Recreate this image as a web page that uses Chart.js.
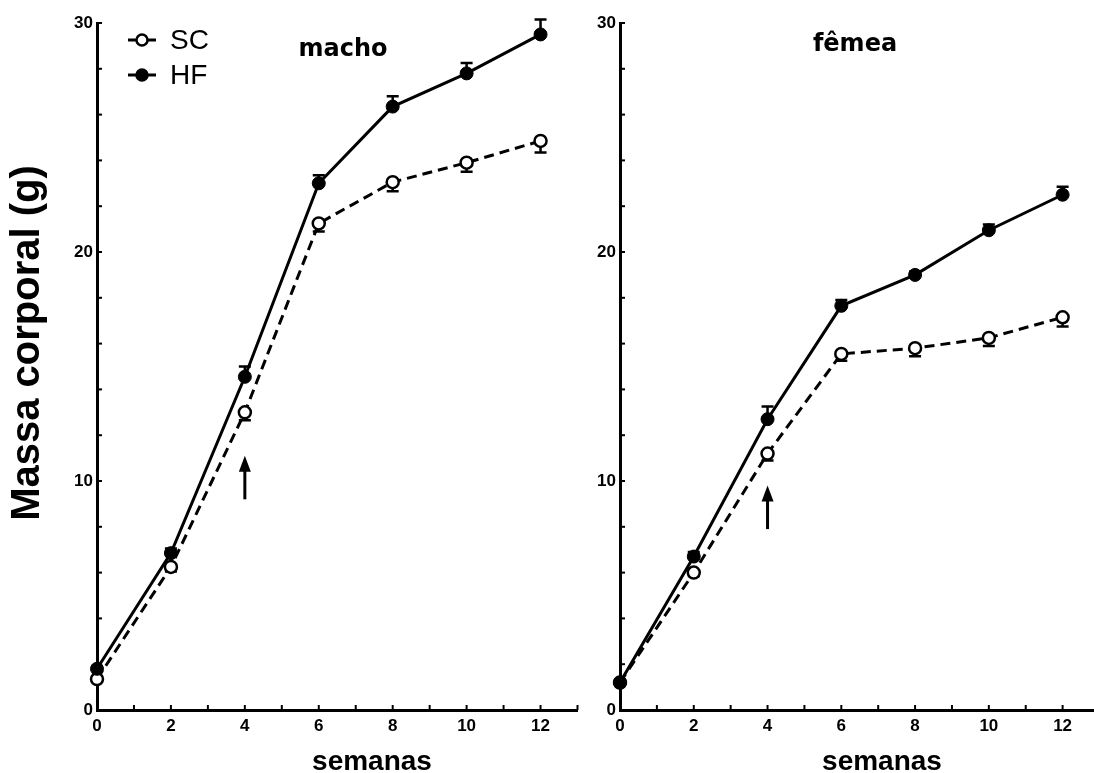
<!DOCTYPE html>
<html>
<head>
<meta charset="utf-8">
<script src="https://cdn.jsdelivr.net/npm/chart.js@4.4.1/dist/chart.umd.min.js"></script>
<style>
  html, body { margin: 0; padding: 0; background: #fff; overflow: hidden; width: 1094px; height: 773px; }
  .panel { position: absolute; top: 0; height: 773px; }
</style>
</head>
<body>
<div class="panel" style="left:0;width:586px"><canvas id="chart-macho" width="586" height="773"></canvas></div>
<div class="panel" style="left:560px;width:548px"><canvas id="chart-femea" width="548" height="773"></canvas></div>

<script>
// weeks on the x axis
const weeks = [0, 2, 4, 6, 8, 10, 12];

// body mass (g), males
const machoHF = [1.8, 6.85, 14.55, 23.0, 26.35, 27.8, 29.5];
const machoHFerr = [0.1, 0.2, 0.45, 0.35, 0.45, 0.45, 0.65];
const machoSC = [1.35, 6.25, 13.0, 21.25, 23.05, 23.9, 24.85];
const machoSCerr = [0.1, 0.2, 0.35, 0.35, 0.4, 0.4, 0.5];

// body mass (g), females
const femeaHF = [1.2, 6.7, 12.7, 17.65, 19.0, 20.95, 22.5];
const femeaHFerr = [0.1, 0.2, 0.55, 0.25, 0.15, 0.25, 0.35];
const femeaSC = [1.2, 6.0, 11.2, 15.55, 15.8, 16.25, 17.15];
const femeaSCerr = [0.1, 0.15, 0.3, 0.3, 0.35, 0.35, 0.4];

// arrow at week 4 (top value, bottom value)
const arrowWeek = 4;
const machoArrow = [11.1, 9.2];
const femeaArrow = [9.8, 7.9];

const yTickLabels = [0, 10, 20, 30];
const xTickLabels = [0, 2, 4, 6, 8, 10, 12];

const FONT = "'Liberation Sans', Arial, sans-serif";

// error bars, inward ticks, arrow, titles and the little legend
const panelExtras = {
  id: "panelExtras",

  beforeDatasetsDraw(chart) {
    const { ctx } = chart;
    const ys = chart.scales.y;
    chart.data.datasets.forEach((ds, i) => {
      const meta = chart.getDatasetMeta(i);
      ctx.save();
      ctx.strokeStyle = "#000";
      ctx.lineWidth = 2.5;
      meta.data.forEach((pt, j) => {
        const v = ds.data[j].y;
        const end = ys.getPixelForValue(v + ds.errDir * ds.errors[j]);
        ctx.beginPath();
        ctx.moveTo(pt.x, pt.y);
        ctx.lineTo(pt.x, end);
        ctx.moveTo(pt.x - 6, end);
        ctx.lineTo(pt.x + 6, end);
        ctx.stroke();
      });
      ctx.restore();
    });
  },

  afterDraw(chart, args, opts) {
    const { ctx, chartArea } = chart;
    const xs = chart.scales.x;
    const ys = chart.scales.y;

    ctx.save();
    ctx.strokeStyle = "#000";
    ctx.fillStyle = "#000";

    // inward tick marks
    ctx.lineWidth = 2;
    xs.ticks.forEach((t) => {
      const px = xs.getPixelForValue(t.value);
      ctx.beginPath();
      ctx.moveTo(px, chartArea.bottom);
      ctx.lineTo(px, chartArea.bottom - 5);
      ctx.stroke();
    });
    ys.ticks.forEach((t) => {
      const py = ys.getPixelForValue(t.value);
      ctx.beginPath();
      ctx.moveTo(chartArea.left, py);
      ctx.lineTo(chartArea.left + 5, py);
      ctx.stroke();
    });

    // arrow
    const ax = xs.getPixelForValue(arrowWeek);
    const aTop = ys.getPixelForValue(opts.arrow[0]);
    const aBot = ys.getPixelForValue(opts.arrow[1]);
    ctx.lineWidth = 3;
    ctx.beginPath();
    ctx.moveTo(ax, aTop + 12);
    ctx.lineTo(ax, aBot);
    ctx.stroke();
    ctx.beginPath();
    ctx.moveTo(ax, aTop);
    ctx.lineTo(ax - 6, aTop + 16);
    ctx.lineTo(ax + 6, aTop + 16);
    ctx.closePath();
    ctx.fill();

    // panel title
    ctx.font = "bold 24px 'DejaVu Sans', Verdana, sans-serif";
    ctx.textAlign = "center";
    ctx.textBaseline = "middle";
    ctx.fillText(opts.title, chartArea.left + opts.titleX, chartArea.top + opts.titleY);

    // x axis title
    ctx.font = "bold 28px " + FONT;
    ctx.fillText("semanas", chartArea.left + opts.xTitleX, 762);

    // y axis title
    if (opts.yTitle) {
      ctx.save();
      ctx.translate(28, 343);
      ctx.rotate(-Math.PI / 2);
      ctx.font = "bold 40px " + FONT;
      ctx.fillText(opts.yTitle, 0, 0);
      ctx.restore();
    }

    // legend
    if (opts.legend) {
      const lx = chartArea.left + 31;
      let ly = chartArea.top + 17;
      chart.data.datasets.slice().reverse().forEach((ds) => {
        ctx.lineWidth = 3;
        ctx.beginPath();
        ctx.moveTo(lx, ly);
        ctx.lineTo(lx + 28, ly);
        ctx.stroke();
        ctx.beginPath();
        ctx.arc(lx + 14, ly, 5.5, 0, Math.PI * 2);
        ctx.fillStyle = ds.pointBackgroundColor;
        ctx.fill();
        ctx.lineWidth = 2.5;
        ctx.stroke();
        ctx.fillStyle = "#000";
        ctx.font = "28px " + FONT;
        ctx.textAlign = "left";
        ctx.fillText(ds.label, lx + 42, ly + 1);
        ly += 35;
      });
    }
    ctx.restore();
  },
};

function makePanel(id, hf, hfErr, sc, scErr, extras, yWidth, rightPad) {
  const tickFont = { family: FONT, size: 17, weight: "bold" };
  return new Chart(document.getElementById(id).getContext("2d"), {
    type: "line",
    data: {
      datasets: [
        {
          label: "HF",
          data: weeks.map((w, i) => ({ x: w, y: hf[i] })),
          errors: hfErr,
          errDir: 1,
          borderColor: "#000",
          borderWidth: 3,
          pointRadius: 6.5,
          pointBackgroundColor: "#000",
          pointBorderColor: "#000",
          pointBorderWidth: 1,
          clip: false,
        },
        {
          label: "SC",
          data: weeks.map((w, i) => ({ x: w, y: sc[i] })),
          errors: scErr,
          errDir: -1,
          borderColor: "#000",
          borderWidth: 3,
          borderDash: [10, 6],
          pointRadius: 6,
          pointBackgroundColor: "#fff",
          pointBorderColor: "#000",
          pointBorderWidth: 2.5,
          clip: false,
        },
      ],
    },
    options: {
      responsive: false,
      animation: false,
      events: [],
      layout: { padding: { left: 0, top: 23, right: rightPad, bottom: 0 } },
      plugins: {
        legend: { display: false },
        tooltip: { enabled: false },
        panelExtras: extras,
      },
      scales: {
        x: {
          type: "linear",
          min: 0,
          max: 13,
          afterFit: (s) => { s.height = 63; },
          ticks: {
            stepSize: 1,
            autoSkip: false,
            maxRotation: 0,
            padding: 6,
            color: "#000",
            font: tickFont,
            callback: (v) => (xTickLabels.includes(v) ? v : ""),
          },
          grid: { drawOnChartArea: false, drawTicks: false },
          border: { display: true, color: "#000", width: 3 },
        },
        y: {
          min: 0,
          max: 30,
          afterFit: (s) => { s.width = yWidth; },
          ticks: {
            stepSize: 2,
            autoSkip: false,
            padding: 4,
            color: "#000",
            font: tickFont,
            callback: (v) => (yTickLabels.includes(v) ? v : ""),
          },
          grid: { drawOnChartArea: false, drawTicks: false },
          border: { display: true, color: "#000", width: 3 },
        },
      },
    },
    plugins: [panelExtras],
  });
}

makePanel("chart-macho", machoHF, machoHFerr, machoSC, machoSCerr, {
  title: "macho", titleX: 246, titleY: 27, xTitleX: 275,
  arrow: machoArrow, legend: true, yTitle: "Massa corporal (g)",
}, 97, 2);

makePanel("chart-femea", femeaHF, femeaHFerr, femeaSC, femeaSCerr, {
  title: "fêmea", titleX: 235, titleY: 22, xTitleX: 262,
  arrow: femeaArrow, legend: false, yTitle: null,
}, 60, 0);
</script>
</body>
</html>
